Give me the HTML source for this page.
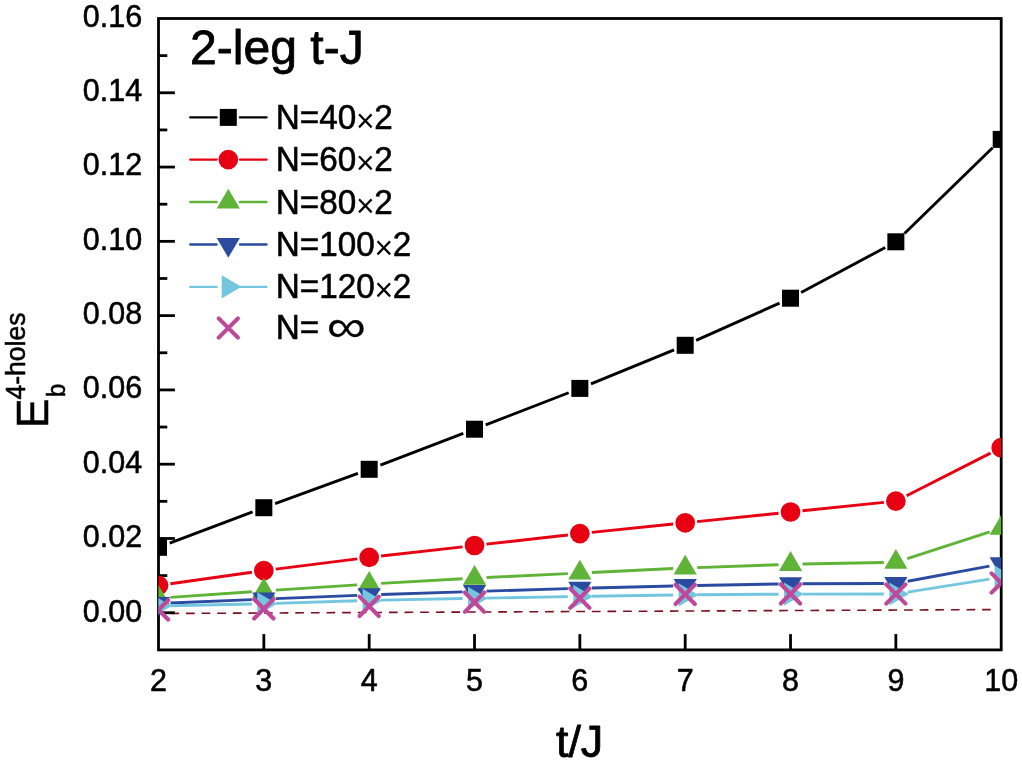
<!DOCTYPE html>
<html><head><meta charset="utf-8"><title>2-leg t-J</title>
<style>
html,body{margin:0;padding:0;background:#fff;}
body{width:1022px;height:761px;overflow:hidden;}
svg{display:block;}
text{font-family:"Liberation Sans", sans-serif;fill:#000;stroke:#000;stroke-width:0.55px;stroke-linejoin:round;}
text .mul{stroke:none;}
</style></head><body>
<svg width="1022" height="761" viewBox="0 0 1022 761">
<rect width="1022" height="761" fill="#fff"/>
<defs><clipPath id="plot"><rect x="158.5" y="18.5" width="842.7" height="631.4"/></clipPath></defs>

<line x1="158.5" y1="613.5" x2="990.7" y2="609.6" stroke="#7E0F20" stroke-width="1.6" stroke-dasharray="8.7 6.91" stroke-dashoffset="3.7"/>
<rect x="158.5" y="18.5" width="842.70" height="631.40" fill="none" stroke="#000" stroke-width="2.8"/>
<g stroke="#000" stroke-width="2.8" fill="none">
<line x1="158.5" y1="612.76" x2="174.90" y2="612.76"/>
<line x1="158.5" y1="538.48" x2="174.90" y2="538.48"/>
<line x1="158.5" y1="464.19" x2="174.90" y2="464.19"/>
<line x1="158.5" y1="389.91" x2="174.90" y2="389.91"/>
<line x1="158.5" y1="315.63" x2="174.90" y2="315.63"/>
<line x1="158.5" y1="241.35" x2="174.90" y2="241.35"/>
<line x1="158.5" y1="167.06" x2="174.90" y2="167.06"/>
<line x1="158.5" y1="92.78" x2="174.90" y2="92.78"/>
<line x1="158.5" y1="575.62" x2="167.30" y2="575.62"/>
<line x1="158.5" y1="501.34" x2="167.30" y2="501.34"/>
<line x1="158.5" y1="427.05" x2="167.30" y2="427.05"/>
<line x1="158.5" y1="352.77" x2="167.30" y2="352.77"/>
<line x1="158.5" y1="278.49" x2="167.30" y2="278.49"/>
<line x1="158.5" y1="204.21" x2="167.30" y2="204.21"/>
<line x1="158.5" y1="129.92" x2="167.30" y2="129.92"/>
<line x1="158.5" y1="55.64" x2="167.30" y2="55.64"/>
<line x1="263.84" y1="649.9" x2="263.84" y2="634.10"/>
<line x1="369.18" y1="649.9" x2="369.18" y2="634.10"/>
<line x1="474.51" y1="649.9" x2="474.51" y2="634.10"/>
<line x1="579.85" y1="649.9" x2="579.85" y2="634.10"/>
<line x1="685.19" y1="649.9" x2="685.19" y2="634.10"/>
<line x1="790.53" y1="649.9" x2="790.53" y2="634.10"/>
<line x1="895.86" y1="649.9" x2="895.86" y2="634.10"/>
</g>
<g clip-path="url(#plot)">
<path d="M169.73,543.08L252.61,511.92M275.11,503.59L357.90,473.41M380.39,465.03L463.30,433.47M485.70,424.87L568.66,392.73M590.96,383.86L674.08,349.84M696.14,340.40L779.57,303.10M801.10,292.54L885.28,247.46M904.47,233.44L992.60,147.76" stroke="#000000" stroke-width="2.9" fill="none"/>
<rect x="150.00" y="538.80" width="17.0" height="17.0" fill="#000000"/>
<rect x="255.34" y="499.20" width="17.0" height="17.0" fill="#000000"/>
<rect x="360.68" y="460.80" width="17.0" height="17.0" fill="#000000"/>
<rect x="466.01" y="420.70" width="17.0" height="17.0" fill="#000000"/>
<rect x="571.35" y="379.90" width="17.0" height="17.0" fill="#000000"/>
<rect x="676.69" y="336.80" width="17.0" height="17.0" fill="#000000"/>
<rect x="782.03" y="289.70" width="17.0" height="17.0" fill="#000000"/>
<rect x="887.36" y="233.30" width="17.0" height="17.0" fill="#000000"/>
<rect x="992.70" y="130.90" width="17.0" height="17.0" fill="#000000"/>
<path d="M170.38,583.73L251.95,572.27M275.74,569.11L357.27,558.89M381.10,556.05L462.59,546.85M486.44,544.15L567.93,534.95M591.79,532.38L673.25,524.02M697.12,521.58L778.59,513.22M802.46,510.76L883.93,502.34M906.57,495.67L990.50,453.13" stroke="#E60012" stroke-width="2.9" fill="none"/>
<circle cx="158.50" cy="585.40" r="9.85" fill="#E60012"/>
<circle cx="263.84" cy="570.60" r="9.85" fill="#E60012"/>
<circle cx="369.18" cy="557.40" r="9.85" fill="#E60012"/>
<circle cx="474.51" cy="545.50" r="9.85" fill="#E60012"/>
<circle cx="579.85" cy="533.60" r="9.85" fill="#E60012"/>
<circle cx="685.19" cy="522.80" r="9.85" fill="#E60012"/>
<circle cx="790.53" cy="512.00" r="9.85" fill="#E60012"/>
<circle cx="895.86" cy="501.10" r="9.85" fill="#E60012"/>
<circle cx="1001.20" cy="447.70" r="9.85" fill="#E60012"/>
<path d="M170.47,597.37L251.87,591.73M275.81,590.13L357.20,584.87M381.16,583.42L462.53,578.78M486.50,577.52L567.86,573.58M591.84,572.43L673.20,568.57M697.18,567.58L778.53,564.72M802.52,564.06L883.86,562.44M907.28,558.51L989.78,531.89" stroke="#5FB336" stroke-width="2.9" fill="none"/>
<polygon points="158.50,585.00 170.10,604.80 146.90,604.80" fill="#5FB336"/>
<polygon points="263.84,577.70 275.44,597.50 252.24,597.50" fill="#5FB336"/>
<polygon points="369.18,570.90 380.78,590.70 357.57,590.70" fill="#5FB336"/>
<polygon points="474.51,564.90 486.11,584.70 462.91,584.70" fill="#5FB336"/>
<polygon points="579.85,559.80 591.45,579.60 568.25,579.60" fill="#5FB336"/>
<polygon points="685.19,554.80 696.79,574.60 673.59,574.60" fill="#5FB336"/>
<polygon points="790.53,551.10 802.13,570.90 778.93,570.90" fill="#5FB336"/>
<polygon points="895.86,549.00 907.46,568.80 884.26,568.80" fill="#5FB336"/>
<polygon points="1001.20,515.00 1012.80,534.80 989.60,534.80" fill="#5FB336"/>
<path d="M170.49,603.00L251.85,599.60M275.83,598.62L357.18,595.38M381.17,594.51L462.52,591.89M486.51,591.14L567.86,588.66M591.85,588.00L673.19,586.00M697.19,585.48L778.53,584.02M802.52,583.77L883.86,583.53M907.66,581.30L989.40,566.10" stroke="#2B4BA0" stroke-width="2.9" fill="none"/>
<polygon points="158.50,616.70 170.10,596.90 146.90,596.90" fill="#2B4BA0"/>
<polygon points="263.84,612.30 275.44,592.50 252.24,592.50" fill="#2B4BA0"/>
<polygon points="369.18,608.10 380.78,588.30 357.57,588.30" fill="#2B4BA0"/>
<polygon points="474.51,604.70 486.11,584.90 462.91,584.90" fill="#2B4BA0"/>
<polygon points="579.85,601.50 591.45,581.70 568.25,581.70" fill="#2B4BA0"/>
<polygon points="685.19,598.90 696.79,579.10 673.59,579.10" fill="#2B4BA0"/>
<polygon points="790.53,597.00 802.13,577.20 778.93,577.20" fill="#2B4BA0"/>
<polygon points="895.86,596.70 907.46,576.90 884.26,576.90" fill="#2B4BA0"/>
<polygon points="1001.20,577.10 1012.80,557.30 989.60,557.30" fill="#2B4BA0"/>
<path d="M170.50,605.75L251.84,604.05M275.83,603.41L357.18,600.79M381.17,600.16L462.51,598.54M486.51,598.08L567.85,596.62M591.85,596.23L673.19,595.07M697.19,594.81L778.53,594.19M802.52,594.09L883.86,594.01M907.71,592.11L989.35,579.09" stroke="#74C6DE" stroke-width="2.9" fill="none"/>
<polygon points="171.70,606.00 151.90,594.40 151.90,617.60" fill="#74C6DE"/>
<polygon points="277.04,603.80 257.24,592.20 257.24,615.40" fill="#74C6DE"/>
<polygon points="382.38,600.40 362.57,588.80 362.57,612.00" fill="#74C6DE"/>
<polygon points="487.71,598.30 467.91,586.70 467.91,609.90" fill="#74C6DE"/>
<polygon points="593.05,596.40 573.25,584.80 573.25,608.00" fill="#74C6DE"/>
<polygon points="698.39,594.90 678.59,583.30 678.59,606.50" fill="#74C6DE"/>
<polygon points="803.73,594.10 783.93,582.50 783.93,605.70" fill="#74C6DE"/>
<polygon points="909.06,594.00 889.26,582.40 889.26,605.60" fill="#74C6DE"/>
<polygon points="1014.40,577.20 994.60,565.60 994.60,588.80" fill="#74C6DE"/>
<path d="M148.85,600.25L168.15,619.55M148.85,619.55L168.15,600.25" stroke="#BF489B" stroke-width="4.15" stroke-linecap="round" fill="none"/>
<path d="M254.19,599.20L273.49,618.50M254.19,618.50L273.49,599.20" stroke="#BF489B" stroke-width="4.15" stroke-linecap="round" fill="none"/>
<path d="M359.53,596.65L378.82,615.95M359.53,615.95L378.82,596.65" stroke="#BF489B" stroke-width="4.15" stroke-linecap="round" fill="none"/>
<path d="M464.86,592.55L484.16,611.85M464.86,611.85L484.16,592.55" stroke="#BF489B" stroke-width="4.15" stroke-linecap="round" fill="none"/>
<path d="M570.20,588.55L589.50,607.85M570.20,607.85L589.50,588.55" stroke="#BF489B" stroke-width="4.15" stroke-linecap="round" fill="none"/>
<path d="M675.54,584.75L694.84,604.05M675.54,604.05L694.84,584.75" stroke="#BF489B" stroke-width="4.15" stroke-linecap="round" fill="none"/>
<path d="M780.88,584.20L800.18,603.50M780.88,603.50L800.18,584.20" stroke="#BF489B" stroke-width="4.15" stroke-linecap="round" fill="none"/>
<path d="M886.21,584.35L905.51,603.65M886.21,603.65L905.51,584.35" stroke="#BF489B" stroke-width="4.15" stroke-linecap="round" fill="none"/>
<path d="M991.55,573.35L1010.85,592.65M991.55,592.65L1010.85,573.35" stroke="#BF489B" stroke-width="4.15" stroke-linecap="round" fill="none"/>
</g>
<text x="142.2" y="621.66" font-size="30.5" text-anchor="end">0.00</text>
<text x="142.2" y="547.27" font-size="30.5" text-anchor="end">0.02</text>
<text x="142.2" y="472.88" font-size="30.5" text-anchor="end">0.04</text>
<text x="142.2" y="398.49" font-size="30.5" text-anchor="end">0.06</text>
<text x="142.2" y="324.10" font-size="30.5" text-anchor="end">0.08</text>
<text x="142.2" y="249.72" font-size="30.5" text-anchor="end">0.10</text>
<text x="142.2" y="175.33" font-size="30.5" text-anchor="end">0.12</text>
<text x="142.2" y="100.94" font-size="30.5" text-anchor="end">0.14</text>
<text x="142.2" y="26.55" font-size="30.5" text-anchor="end">0.16</text>
<text x="158.50" y="690.9" font-size="30.5" text-anchor="middle">2</text>
<text x="263.84" y="690.9" font-size="30.5" text-anchor="middle">3</text>
<text x="369.18" y="690.9" font-size="30.5" text-anchor="middle">4</text>
<text x="474.51" y="690.9" font-size="30.5" text-anchor="middle">5</text>
<text x="579.85" y="690.9" font-size="30.5" text-anchor="middle">6</text>
<text x="685.19" y="690.9" font-size="30.5" text-anchor="middle">7</text>
<text x="790.53" y="690.9" font-size="30.5" text-anchor="middle">8</text>
<text x="895.86" y="690.9" font-size="30.5" text-anchor="middle">9</text>
<text x="1001.20" y="690.9" font-size="30.5" text-anchor="middle">10</text>
<text x="579.6" y="756.6" font-size="44.8" text-anchor="middle" style="stroke-width:0.8px">t/J</text>
<text transform="translate(47.9,428.3) rotate(-90)" font-size="44.5">E</text>
<text transform="translate(65.2,397) rotate(-90) scale(0.9,1)" font-size="26.5">b</text>
<text transform="translate(24.9,399.6) rotate(-90) scale(0.94,1)" font-size="28.3">4-holes</text>
<text x="190.0" y="64" font-size="48.1" style="stroke-width:0.8px">2-leg t-J</text>
<path d="M190.2,117.4L216.70,117.4M239.90,117.4L266.6,117.4" stroke="#000000" stroke-width="2.3" stroke-linecap="round" fill="none"/>
<rect x="219.80" y="108.90" width="17.0" height="17.0" fill="#000000"/>
<text transform="translate(275.8,129.0) scale(0.965,1)" font-size="34.5">N=40<tspan class="mul" font-size="33" dx="-0.3" dy="2.8">×</tspan><tspan dx="-0.4" dy="-2.8">2</tspan></text>
<path d="M190.2,159.6L216.70,159.6M239.90,159.6L266.6,159.6" stroke="#E60012" stroke-width="2.3" stroke-linecap="round" fill="none"/>
<circle cx="228.30" cy="159.60" r="9.85" fill="#E60012"/>
<text transform="translate(275.8,171.2) scale(0.965,1)" font-size="34.5">N=60<tspan class="mul" font-size="33" dx="-0.3" dy="2.8">×</tspan><tspan dx="-0.4" dy="-2.8">2</tspan></text>
<path d="M190.2,202.0L216.70,202.0M239.90,202.0L266.6,202.0" stroke="#5FB336" stroke-width="2.3" stroke-linecap="round" fill="none"/>
<polygon points="228.30,188.80 239.90,208.60 216.70,208.60" fill="#5FB336"/>
<text transform="translate(275.8,213.8) scale(0.965,1)" font-size="34.5">N=80<tspan class="mul" font-size="33" dx="-0.3" dy="2.8">×</tspan><tspan dx="-0.4" dy="-2.8">2</tspan></text>
<path d="M190.2,244.5L216.70,244.5M239.90,244.5L266.6,244.5" stroke="#2B4BA0" stroke-width="2.3" stroke-linecap="round" fill="none"/>
<polygon points="228.30,257.70 239.90,237.90 216.70,237.90" fill="#2B4BA0"/>
<text transform="translate(275.8,255.8) scale(0.965,1)" font-size="34.5">N=100<tspan class="mul" font-size="33" dx="-0.3" dy="2.8">×</tspan><tspan dx="-0.4" dy="-2.8">2</tspan></text>
<path d="M190.2,286.8L216.70,286.8M239.90,286.8L266.6,286.8" stroke="#74C6DE" stroke-width="2.3" stroke-linecap="round" fill="none"/>
<polygon points="241.50,286.80 221.70,275.20 221.70,298.40" fill="#74C6DE"/>
<text transform="translate(275.8,297.8) scale(0.965,1)" font-size="34.5">N=120<tspan class="mul" font-size="33" dx="-0.3" dy="2.8">×</tspan><tspan dx="-0.4" dy="-2.8">2</tspan></text>
<path d="M218.65,318.35L237.95,337.65M218.65,337.65L237.95,318.35" stroke="#BF489B" stroke-width="4.15" stroke-linecap="round" fill="none"/>
<text transform="translate(275.8,338.9) scale(0.965,1)" font-size="34.5">N=</text>
<text transform="translate(326.7,341.60) scale(1.195,1)" font-size="46" style="stroke-width:0.15px">∞</text>
</svg></body></html>
